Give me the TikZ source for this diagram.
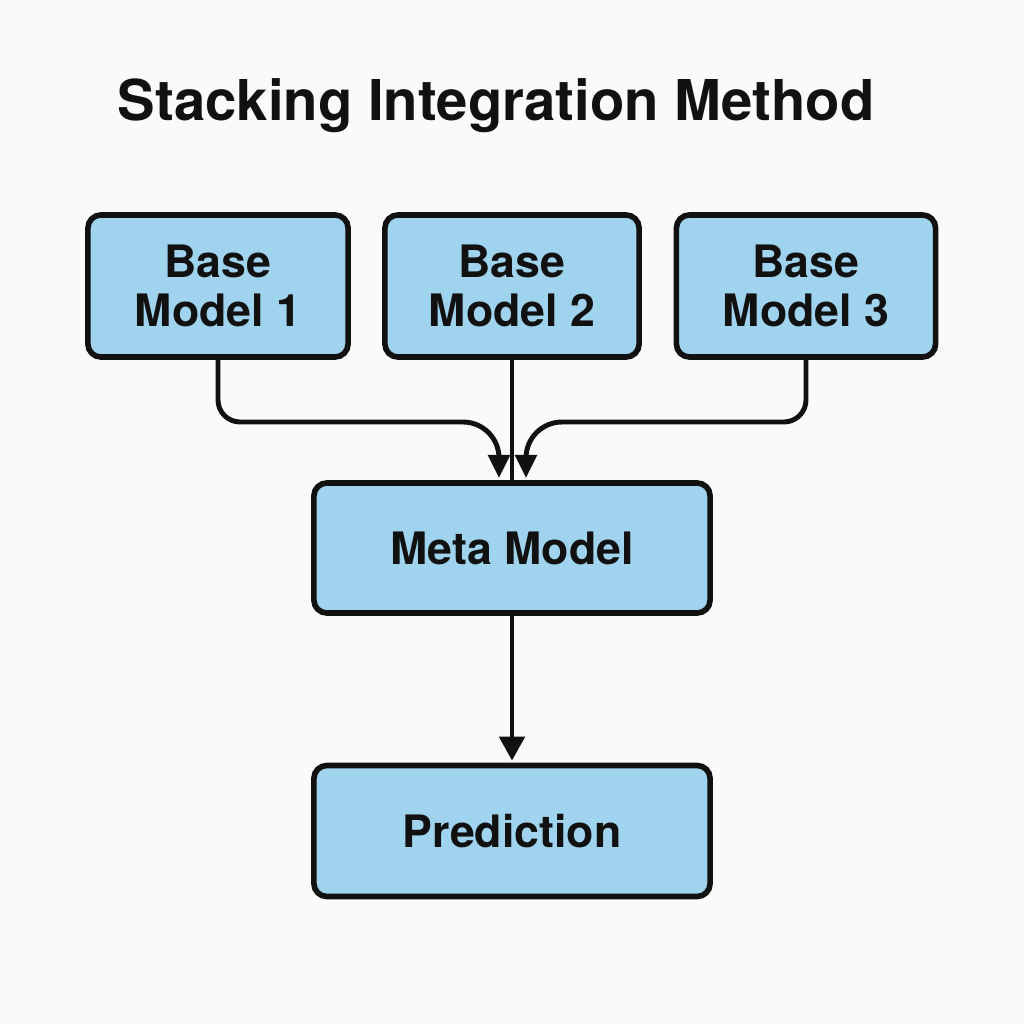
\documentclass[tikz,border=0pt]{standalone}
\usepackage{fontspec}
\setmainfont{TeX Gyre Heros}
\usetikzlibrary{arrows.meta}
\definecolor{bgc}{HTML}{FAFAF8}
\definecolor{boxfill}{HTML}{A0D3EE}
\definecolor{ink}{HTML}{111111}
\tikzset{
  box/.style={draw=ink, line width=1.6pt, fill=boxfill, rounded corners=0.13cm,
    align=center, font=\fontsize{12.7}{14}\selectfont\bfseries, text=ink, inner sep=0pt},
  conn/.style={draw=ink, line width=1.4pt},
  arr/.style={conn, -{Triangle[width=0.21cm,length=0.23cm]}},
  bigarr/.style={conn, -{Triangle[width=0.25cm,length=0.24cm]}},
}
\begin{document}
\begin{tikzpicture}[x=0.01cm,y=-0.01cm]
\fill[bgc] (0,0) rectangle (1024,1024);
\useasboundingbox (0,0) rectangle (1024,1024);
\node[font=\fontsize{16}{19}\selectfont\bfseries, text=ink] (title) at (496,106) {Stacking Integration Method};
\node[box, minimum width=2.60cm, minimum height=1.42cm] (b1) at (218,286) {Base\\Model 1};
\node[box, minimum width=2.54cm, minimum height=1.42cm] (b2) at (512,286) {Base\\Model 2};
\node[box, minimum width=2.59cm, minimum height=1.42cm] (b3) at (806,286) {Base\\Model 3};
\node[box, minimum width=3.96cm, minimum height=1.30cm] (m) at (512,548) {Meta Model};
\node[box, minimum width=3.96cm, minimum height=1.31cm] (p) at (512,831) {Prediction};
\coordinate (t1) at (499,478);
\coordinate (t3) at (526,478);
\draw[arr] (b1.south) [rounded corners=0.22cm] -- (b1.south |- 0,422) [rounded corners=0.36cm] -- (t1 |- 0,422) [sharp corners] -- (t1);
\draw[arr] (b3.south) [rounded corners=0.22cm] -- (b3.south |- 0,422) [rounded corners=0.36cm] -- (t3 |- 0,422) [sharp corners] -- (t3);
\draw[conn] (b2.south) -- (m.north);
\draw[bigarr, shorten >=0.02cm] (m.south) -- (p.north);
\end{tikzpicture}
\end{document}
